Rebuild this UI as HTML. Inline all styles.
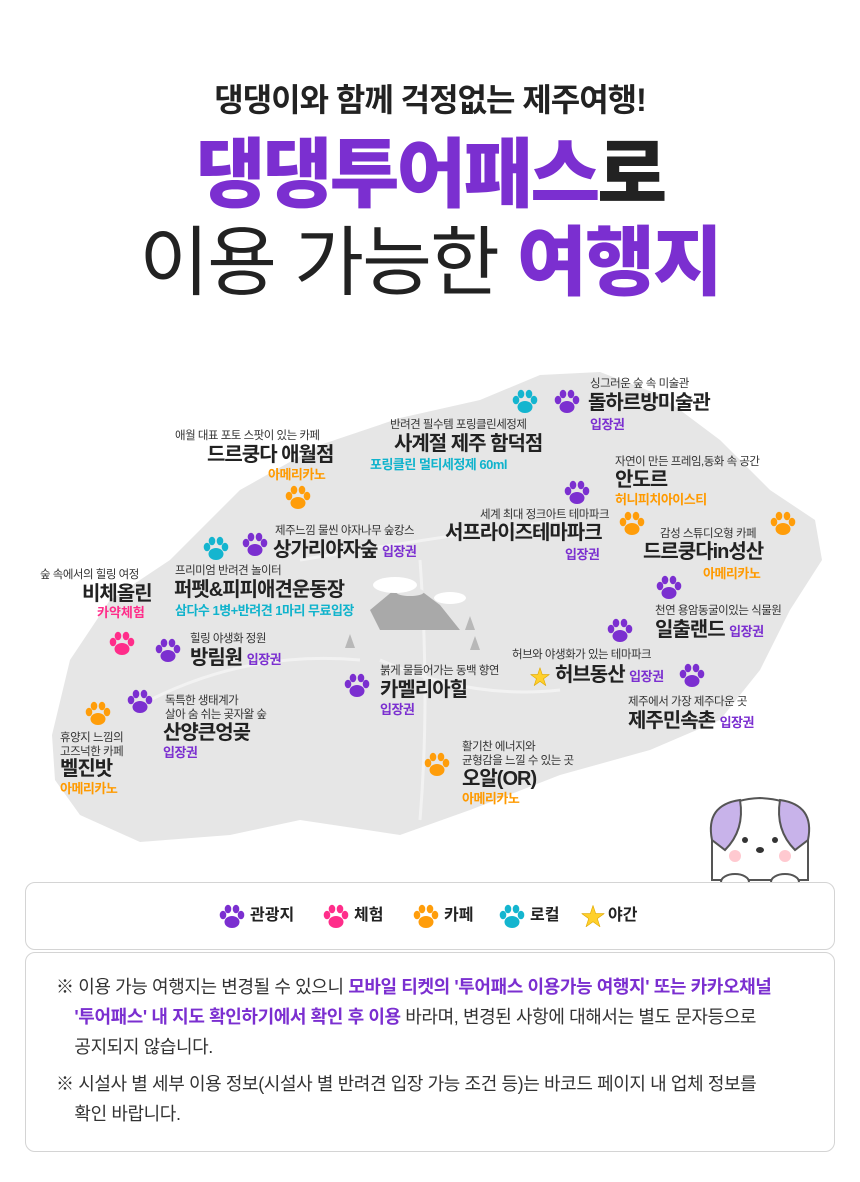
<!DOCTYPE html>
<html><head><meta charset="utf-8">
<style>
*{margin:0;padding:0;box-sizing:border-box}
body{width:860px;height:1182px;background:#fff;position:relative;overflow:hidden;font-family:"Liberation Sans","Noto Sans CJK KR",sans-serif;color:#222}
.a{position:absolute;white-space:nowrap;line-height:1}
.s{font-size:11.5px;color:#333;letter-spacing:-0.5px}
.b{font-size:20px;font-weight:700;color:#222;letter-spacing:-1px}
.p{color:#7b2fd0;font-weight:700;font-size:13px;letter-spacing:-0.5px}
.o{color:#ff9a00;font-weight:700;font-size:13px;letter-spacing:-0.5px}
.t{color:#10b3cc;font-weight:700;font-size:13px;letter-spacing:-0.5px}
.k{color:#ff2d8a;font-weight:700;font-size:13px}
.box{position:absolute;left:25px;width:810px;border:1.5px solid #d4d4d4;border-radius:10px;background:#fff}
.note{font-size:18px;color:#333;line-height:30px;letter-spacing:-0.4px}
.note b{color:#7b2fd0;font-weight:700}
</style></head><body>
<svg width="0" height="0" style="position:absolute"><defs>
<g id="paw"><ellipse cx="0" cy="5" rx="7.5" ry="6"/><ellipse cx="-9" cy="-2" rx="3.3" ry="4.3"/><ellipse cx="-4" cy="-8" rx="3.3" ry="4.3"/><ellipse cx="4" cy="-8" rx="3.3" ry="4.3"/><ellipse cx="9" cy="-2" rx="3.3" ry="4.3"/></g>
</defs></svg>

<div class="a" style="left:0;width:860px;text-align:center;top:84px;font-size:32px;font-weight:700;letter-spacing:-1px">댕댕이와 함께 걱정없는 제주여행!</div>
<div class="a" style="left:0;width:860px;text-align:center;top:138px;font-size:76px;font-weight:900;letter-spacing:-3px"><span style="color:#7b2fd0">댕댕투어패스</span>로</div>
<div class="a" style="left:0;width:860px;text-align:center;top:226px;font-size:76px;letter-spacing:-2px">이용 가능한 <span style="color:#7b2fd0;font-weight:900">여행지</span></div>

<svg class="a" style="left:0;top:0" width="860" height="1182">
<path d="M52,735 L70,660 L110,600 L170,560 L240,490 L320,445 L400,418 L480,400 L540,375 L600,372 L660,395 L720,440 L770,490 L815,520 L822,560 L790,610 L760,670 L720,720 L650,750 L560,775 L470,810 L400,835 L300,820 L230,835 L140,842 L80,815 L55,780 Z" fill="#e6e6e6"/>
<path d="M150,700 Q250,650 360,660 M380,660 Q470,700 560,690 M300,560 Q420,540 560,520 M420,560 Q430,700 420,820" stroke="#f2f2f2" stroke-width="3" fill="none"/>
<path d="M370,610 L400,585 L420,590 L440,605 L460,630 L380,630 Z" fill="#a9a9a9"/>
<ellipse cx="410" cy="592" rx="14" ry="4" fill="#e6e6e6"/>
<ellipse cx="395" cy="585" rx="22" ry="8" fill="#fff"/><ellipse cx="450" cy="598" rx="16" ry="6" fill="#fff"/>
<path d="M345,648 l5,-14 l5,14z M465,630 l5,-14 l5,14z M470,650 l5,-14 l5,14z" fill="#b8b8b8"/>
<g fill="#7b2fd0">
<use href="#paw" x="567" y="402"/><use href="#paw" x="577" y="493"/><use href="#paw" x="669" y="588"/><use href="#paw" x="255" y="545"/><use href="#paw" x="168" y="651"/><use href="#paw" x="620" y="631"/><use href="#paw" x="692" y="676"/><use href="#paw" x="357" y="686"/><use href="#paw" x="140" y="702"/>
</g>
<g fill="#ff9d0a"><use href="#paw" x="298" y="498"/><use href="#paw" x="632" y="524"/><use href="#paw" x="783" y="524"/><use href="#paw" x="98" y="714"/><use href="#paw" x="437" y="765"/></g>
<g fill="#14b5cf"><use href="#paw" x="525" y="402"/><use href="#paw" x="216" y="549"/></g>
<g fill="#ff2d8a"><use href="#paw" x="122" y="644"/></g>
<text x="540" y="684" font-size="20" fill="#ffd02c" stroke="#e0a800" stroke-width="0.6" text-anchor="middle">★</text>
<g>
<path d="M712,880 L712,835 Q712,800 760,798 Q808,800 808,835 L808,880 Z" fill="#fff" stroke="#555" stroke-width="2"/>
<path d="M712,840 Q705,805 740,800 Q745,830 725,850 Z" fill="#c8b3ea" stroke="#555" stroke-width="2"/>
<path d="M808,840 Q815,805 780,800 Q775,830 795,850 Z" fill="#c8b3ea" stroke="#555" stroke-width="2"/>
<circle cx="745" cy="840" r="3" fill="#333"/><circle cx="775" cy="840" r="3" fill="#333"/>
<ellipse cx="760" cy="850" rx="4" ry="3" fill="#333"/>
<circle cx="735" cy="856" r="6" fill="#ffc9d0"/><circle cx="785" cy="856" r="6" fill="#ffc9d0"/>
<ellipse cx="735" cy="882" rx="14" ry="8" fill="#fff" stroke="#555" stroke-width="2"/><ellipse cx="785" cy="882" rx="14" ry="8" fill="#fff" stroke="#555" stroke-width="2"/>
</g>
</svg>

<div class="a s" style="left:590px;top:379px">싱그러운 숲 속 미술관</div>
<div class="a b" style="left:588px;top:393px">돌하르방미술관</div>
<div class="a p" style="left:590px;top:418px">입장권</div>

<div class="a s" style="left:390px;top:420px">반려견 필수템 포링클린세정제</div>
<div class="a b" style="left:394px;top:434px">사계절 제주 함덕점</div>
<div class="a t" style="left:370px;top:458px">포링클린 멀티세정제 60ml</div>

<div class="a s" style="left:175px;top:431px">애월 대표 포토 스팟이 있는 카페</div>
<div class="a b" style="left:207px;top:445px">드르쿵다 애월점</div>
<div class="a o" style="left:268px;top:468px">아메리카노</div>

<div class="a s" style="left:615px;top:457px">자연이 만든 프레임,동화 속 공간</div>
<div class="a b" style="left:615px;top:470px">안도르</div>
<div class="a o" style="left:615px;top:493px">허니피치아이스티</div>

<div class="a s" style="left:480px;top:510px">세계 최대 정크아트 테마파크</div>
<div class="a b" style="left:445px;top:523px">서프라이즈테마파크</div>
<div class="a p" style="left:565px;top:548px">입장권</div>

<div class="a s" style="left:660px;top:529px">감성 스튜디오형 카페</div>
<div class="a b" style="left:643px;top:542px">드르쿵다in성산</div>
<div class="a o" style="left:703px;top:567px">아메리카노</div>

<div class="a s" style="left:275px;top:526px">제주느낌 물씬 야자나무 숲캉스</div>
<div class="a b" style="left:273px;top:540px">상가리야자숲 <span class="p">입장권</span></div>

<div class="a s" style="left:175px;top:566px">프리미엄 반려견 놀이터</div>
<div class="a b" style="left:174px;top:580px">퍼펫&amp;피피애견운동장</div>
<div class="a t" style="left:175px;top:604px">삼다수 1병+반려견 1마리 무료입장</div>

<div class="a s" style="left:40px;top:570px">숲 속에서의 힐링 여정</div>
<div class="a b" style="left:82px;top:584px">비체올린</div>
<div class="a k" style="left:97px;top:606px">카약체험</div>

<div class="a s" style="left:190px;top:634px">힐링 야생화 정원</div>
<div class="a b" style="left:190px;top:648px">방림원 <span class="p">입장권</span></div>

<div class="a s" style="left:655px;top:606px">천연 용암동굴이있는 식물원</div>
<div class="a b" style="left:655px;top:620px">일출랜드 <span class="p">입장권</span></div>

<div class="a s" style="left:512px;top:650px">허브와 야생화가 있는 테마파크</div>
<div class="a b" style="left:555px;top:665px">허브동산 <span class="p">입장권</span></div>

<div class="a s" style="left:380px;top:666px">붉게 물들어가는 동백 향연</div>
<div class="a b" style="left:380px;top:680px">카멜리아힐</div>
<div class="a p" style="left:380px;top:703px">입장권</div>

<div class="a s" style="left:165px;top:694px;line-height:14px">독특한 생태계가<br>살아 숨 쉬는 곶자왈 숲</div>
<div class="a b" style="left:163px;top:723px">산양큰엉곶</div>
<div class="a p" style="left:163px;top:746px">입장권</div>

<div class="a s" style="left:628px;top:697px">제주에서 가장 제주다운 곳</div>
<div class="a b" style="left:628px;top:711px">제주민속촌 <span class="p">입장권</span></div>

<div class="a s" style="left:60px;top:731px;line-height:14px">휴양지 느낌의<br>고즈넉한 카페</div>
<div class="a b" style="left:60px;top:759px">벨진밧</div>
<div class="a o" style="left:60px;top:782px">아메리카노</div>

<div class="a s" style="left:462px;top:740px;line-height:14px">활기찬 에너지와<br>균형감을 느낄 수 있는 곳</div>
<div class="a b" style="left:462px;top:769px">오알(OR)</div>
<div class="a o" style="left:462px;top:792px">아메리카노</div>

<div class="box" style="top:882px;height:68px"></div>
<svg class="a" style="left:0;top:900px" width="860" height="34">
<g fill="#7b2fd0"><use href="#paw" x="232" y="17"/></g>
<g fill="#ff2d8a"><use href="#paw" x="336" y="17"/></g>
<g fill="#ff9d0a"><use href="#paw" x="426" y="17"/></g>
<g fill="#14b5cf"><use href="#paw" x="512" y="17"/></g>
<text x="593" y="25" font-size="24" fill="#ffd02c" stroke="#e0a800" stroke-width="0.6" text-anchor="middle">★</text>
</svg>
<div class="a" style="left:250px;top:908px;font-size:16px;font-weight:700">관광지</div>
<div class="a" style="left:354px;top:908px;font-size:16px;font-weight:700">체험</div>
<div class="a" style="left:444px;top:908px;font-size:16px;font-weight:700">카페</div>
<div class="a" style="left:530px;top:908px;font-size:16px;font-weight:700">로컬</div>
<div class="a" style="left:608px;top:908px;font-size:16px;font-weight:700">야간</div>

<div class="box" style="top:952px;height:200px"></div>
<div class="a note" style="left:56px;top:972px">※ 이용 가능 여행지는 변경될 수 있으니 <b>모바일 티켓의 '투어패스 이용가능 여행지' 또는 카카오채널</b><br>&nbsp;&nbsp;&nbsp;&nbsp;<b>'투어패스' 내 지도 확인하기에서 확인 후 이용</b> 바라며, 변경된 사항에 대해서는 별도 문자등으로<br>&nbsp;&nbsp;&nbsp;&nbsp;공지되지 않습니다.</div>
<div class="a note" style="left:56px;top:1069px">※ 시설사 별 세부 이용 정보(시설사 별 반려견 입장 가능 조건 등)는 바코드 페이지 내 업체 정보를<br>&nbsp;&nbsp;&nbsp;&nbsp;확인 바랍니다.</div>
</body></html>
